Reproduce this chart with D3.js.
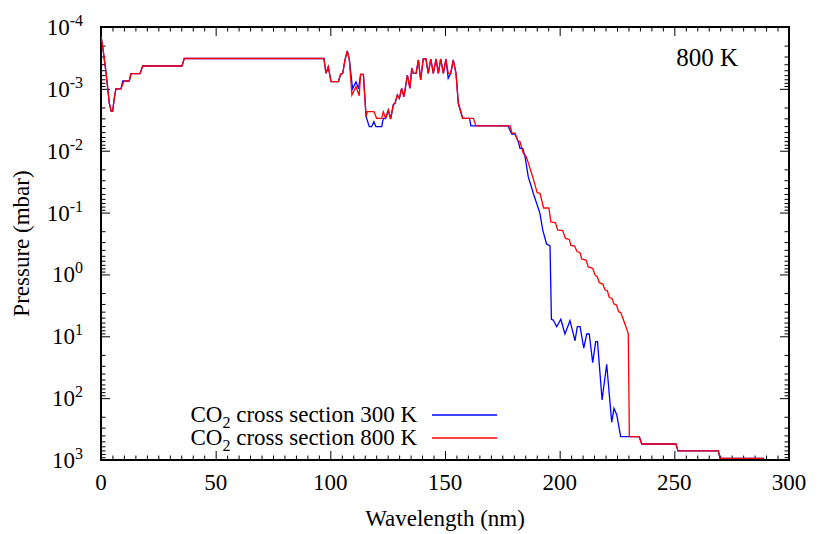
<!DOCTYPE html>
<html lang="en">
<head>
	<meta charset="UTF-8">
	<title>CO2 cross section</title>
	<script src="https://cdn.jsdelivr.net/npm/d3@7"></script>
	<style>
	*{margin:0; padding:0;}
	body{background:#fff;}
	svg text{font-family:"Liberation Serif","Times New Roman",serif; fill:#000;}
	.tick line{stroke:#000; stroke-width:1;}
	</style>
</head>
<body>
<script>
// values (wavelength in nm, pressure in mbar)
var wl300 = [0, 0.7, 2.2, 3.6, 4.4, 5.1, 5.8, 6.5, 8.7, 9.5, 12.3, 13.1, 17.0, 18.2, 35.3, 36.3, 97.2, 98.1, 99.1, 100.3,
	103.5, 104.5, 105.4, 106.4, 107.4, 108.3, 109.7, 111.2, 112.3, 113.2, 114.4, 115.6, 117.0, 118.0, 119.0, 119.9, 122.4, 123.1, 124.1, 125.3,
	126.3, 127.5, 128.2, 129.2, 130.1, 131.1, 132.1, 133.6, 134.7, 135.5, 136.2, 137.4, 138.4, 139.4, 140.5, 141.7, 142.7, 143.8, 144.9, 146.1,
	147.1, 148.1, 149.3, 150.4, 151.4, 152.5, 153.6, 154.8, 155.8, 157.7, 160.7, 161.3, 177.5, 179.1, 180.5, 182.0, 182.7, 183.9, 184.9, 186.3,
	188.5, 191.4, 192.6, 194.3, 195.8, 196.4, 197.2, 198.7, 200.5, 202.3, 204.5, 206.7, 207.7, 208.9, 210.5, 211.8, 212.9, 214.4, 215.7, 216.5,
	218.5, 220.5, 222.7, 223.7, 224.9, 226.6, 234.7, 235.8, 250.7, 251.6, 269.2, 269.9, 289.1];
var p300 = [1.40e-4, 2.03e-4, 5.48e-4, 1.68e-3, 2.28e-3, 2.28e-3, 1.41e-3, 1.0e-3, 1.0e-3, 7.46e-4, 7.46e-4, 5.69e-4, 5.69e-4, 4.27e-4, 4.27e-4, 3.23e-4, 3.23e-4, 5.60e-4, 4.39e-4, 7.66e-4,
	7.66e-4, 5.82e-4, 5.60e-4, 3.41e-4, 2.44e-4, 3.41e-4, 1.0e-3, 7.74e-4, 1.0e-3, 5.82e-4, 5.82e-4, 2.82e-3, 4.09e-3, 4.09e-3, 3.40e-3, 4.09e-3, 4.09e-3, 2.99e-3, 2.99e-3, 2.20e-3,
	3.07e-3, 1.78e-3, 1.71e-3, 1.26e-3, 1.42e-3, 9.8e-4, 1.34e-3, 5.97e-4, 9.8e-4, 4.66e-4, 5.60e-4, 5.60e-4, 3.41e-4, 7.2e-4, 3.29e-4, 3.29e-4, 5.6e-4, 3.29e-4, 5.6e-4, 3.29e-4,
	5.6e-4, 3.29e-4, 5.6e-4, 3.29e-4, 6.75e-4, 5.6e-4, 3.41e-4, 5.6e-4, 1.71e-3, 2.99e-3, 2.99e-3, 3.98e-3, 3.98e-3, 5.37e-3, 5.37e-3, 7.15e-3, 9.14e-3, 9.14e-3, 1.25e-2, 2.63e-2,
	4.88e-2, 0.103, 0.191, 0.322, 0.347, 5.31, 5.46, 7.0, 5.31, 9.18, 5.60, 11.8, 7.0, 7.0, 15.6, 9.18, 9.18, 26.7, 12.2, 12.2,
	107, 28.3, 245, 146, 187, 420, 420, 551, 551, 714, 714, 938, 938];

var wl800 = [0, 0.7, 2.2, 3.6, 4.4, 5.1, 5.8, 6.5, 8.7, 10.0, 12.3, 13.1, 17.0, 18.2, 35.3, 36.3, 97.2, 98.1, 99.1, 100.3,
	103.5, 104.5, 105.4, 106.4, 107.4, 108.3, 109.4, 111.2, 112.6, 113.2, 114.4, 115.6, 116.1, 119.0, 120.2, 122.4, 123.1, 124.1, 125.3, 126.3,
	127.5, 128.2, 129.2, 130.1, 131.1, 132.1, 133.6, 134.7, 135.5, 136.2, 137.4, 138.4, 139.4, 140.5, 141.7, 142.7, 143.8, 144.9, 146.1, 147.1,
	148.1, 149.3, 150.4, 151.4, 152.5, 153.6, 154.8, 155.8, 157.7, 162.4, 163.5, 178.4, 179.2, 180.5, 181.8, 182.7, 184.1, 185.3, 186.3, 188.5,
	190.2, 191.4, 193.0, 195.3, 196.2, 198.2, 199.1, 201.3, 202.5, 204.2, 204.9, 206.5, 207.6, 208.9, 209.6, 211.5, 212.5, 214.4, 215.4, 216.4,
	217.3, 218.8, 219.8, 220.8, 221.6, 222.8, 223.7, 224.8, 225.7, 226.7, 229.9, 230.4, 234.7, 235.8, 250.7, 251.6, 269.2, 269.9, 289.1];
var p800 = [1.40e-4, 2.03e-4, 5.48e-4, 1.68e-3, 2.28e-3, 2.28e-3, 1.41e-3, 1.0e-3, 1.0e-3, 7.46e-4, 7.46e-4, 5.69e-4, 5.69e-4, 4.27e-4, 4.27e-4, 3.23e-4, 3.23e-4, 5.60e-4, 4.39e-4, 7.66e-4,
	7.66e-4, 5.82e-4, 5.60e-4, 3.41e-4, 2.44e-4, 3.41e-4, 1.26e-3, 9.23e-4, 1.29e-3, 5.82e-4, 5.82e-4, 2.82e-3, 2.34e-3, 2.34e-3, 2.99e-3, 2.99e-3, 2.34e-3, 2.99e-3, 2.20e-3, 3.07e-3,
	1.78e-3, 1.71e-3, 1.26e-3, 1.42e-3, 9.8e-4, 1.34e-3, 5.97e-4, 9.8e-4, 4.66e-4, 5.60e-4, 5.60e-4, 3.41e-4, 7.2e-4, 3.29e-4, 3.29e-4, 5.6e-4, 3.29e-4, 5.6e-4, 3.29e-4, 5.6e-4,
	3.29e-4, 5.6e-4, 3.29e-4, 5.6e-4, 5.6e-4, 3.41e-4, 5.6e-4, 1.71e-3, 2.99e-3, 2.99e-3, 3.98e-3, 3.98e-3, 5.18e-3, 5.18e-3, 6.97e-3, 7.1e-3, 1.10e-2, 1.22e-2, 1.56e-2, 2.86e-2,
	4.78e-2, 4.88e-2, 8.43e-2, 8.43e-2, 0.142, 0.147, 0.191, 0.195, 0.261, 0.272, 0.340, 0.347, 0.426, 0.446, 0.562, 0.585, 0.759, 0.796, 1.02, 1.09,
	1.36, 1.43, 1.79, 1.83, 2.34, 2.45, 3.01, 3.12, 4.0, 4.16, 8.95, 420, 420, 551, 551, 714, 714, 938, 938];

var xTicks = [0, 50, 100, 150, 200, 250, 300];
var yExps = [-4, -3, -2, -1, 0, 1, 2, 3];
var seriesNames = ["CO2 cross section 300 K", "CO2 cross section 800 K"];
var seriesColors = ["#0000ff", "#ff0000"];
var tempLabel = "800 K";

var width = 830, height = 534;
var mLeft = 101, mRight = 789, mTop = 27, mBottom = 460;

var svg = d3.select("body").append("svg")
	.attr("width", width)
	.attr("height", height);

var x = d3.scaleLinear().domain([0, 300]).range([mLeft, mRight]);
var y = d3.scaleLog().domain([1e-4, 1e3]).range([mTop, mBottom]);

var xMinor = d3.range(0, 301, 5).filter(function(d){ return d % 50 !== 0; });
var yMajor = yExps.map(function(e){ return Math.pow(10, e); });
var yMinor = [];
yExps.slice(0, -1).forEach(function(e){
	for(var k = 2; k < 10; k++) yMinor.push(k * Math.pow(10, e));
});

// ticks on all four sides, pointing inward
function addAxis(axisFn, scale, vals, size, tx, ty){
	var g = svg.append("g")
		.attr("transform", "translate(" + tx + "," + ty + ")")
		.call(axisFn(scale).tickValues(vals).tickSize(size).tickFormat(""));
	g.select(".domain").remove();
	return g;
}
addAxis(d3.axisBottom, x, xTicks, -9, 0, mBottom);
addAxis(d3.axisBottom, x, xMinor, -4.5, 0, mBottom);
addAxis(d3.axisTop, x, xTicks, -9, 0, mTop);
addAxis(d3.axisTop, x, xMinor, -4.5, 0, mTop);
addAxis(d3.axisLeft, y, yMajor, -9, mLeft, 0);
addAxis(d3.axisLeft, y, yMinor, -4.5, mLeft, 0);
addAxis(d3.axisRight, y, yMajor, -9, mRight, 0);
addAxis(d3.axisRight, y, yMinor, -4.5, mRight, 0);

// tick labels
svg.append("g").selectAll("text")
	.data(xTicks)
	.enter()
	.append("text")
	.attr("x", function(d){ return x(d); })
	.attr("y", 490)
	.attr("text-anchor", "middle")
	.style("font-size", "23px")
	.text(function(d){ return d; });

var yl = svg.append("g").selectAll("text")
	.data(yExps)
	.enter()
	.append("text")
	.attr("x", 83)
	.attr("y", function(d){ return y(Math.pow(10, d)) + 8; })
	.attr("text-anchor", "end")
	.style("font-size", "23px");
yl.append("tspan").text("10");
yl.append("tspan")
	.attr("dy", -9)
	.style("font-size", "16px")
	.text(function(d){ return d; });

// frame
svg.append("rect")
	.attr("x", mLeft).attr("y", mTop)
	.attr("width", mRight - mLeft).attr("height", mBottom - mTop)
	.attr("fill", "none")
	.attr("stroke", "#000")
	.attr("stroke-width", 2);

// curves
svg.append("clipPath").attr("id", "clip")
	.append("rect")
	.attr("x", mLeft).attr("y", mTop)
	.attr("width", mRight - mLeft).attr("height", mBottom - mTop);

var line = d3.line()
	.x(function(d){ return x(d[0]); })
	.y(function(d){ return y(d[1]); });

var series = [
	d3.zip(wl300, p300),
	d3.zip(wl800, p800)
];
svg.append("g").attr("clip-path", "url(#clip)")
	.selectAll("path")
	.data(series)
	.enter()
	.append("path")
	.attr("d", line)
	.attr("fill", "none")
	.attr("stroke", function(d, i){ return seriesColors[i]; })
	.attr("stroke-width", 1.3);

// legend
var lg = svg.append("g").selectAll("g")
	.data(seriesNames)
	.enter()
	.append("g")
	.attr("transform", function(d, i){ return "translate(0," + (415 + i * 23) + ")"; });
lg.append("line")
	.attr("x1", 432).attr("x2", 497)
	.attr("stroke", function(d, i){ return seriesColors[i]; })
	.attr("stroke-width", 1.3);
var lt = lg.append("text")
	.attr("x", 417)
	.attr("y", 7)
	.attr("text-anchor", "end")
	.style("font-size", "23px");
lt.append("tspan").text("CO");
lt.append("tspan").attr("dy", 6).style("font-size", "16px").text("2");
lt.append("tspan").attr("dy", -6).text(function(d){ return d.replace("CO2", ""); });

svg.append("text")
	.attr("x", 738).attr("y", 66)
	.attr("text-anchor", "end")
	.style("font-size", "25px")
	.text(tempLabel);

// axis titles
svg.append("text")
	.attr("x", (mLeft + mRight) / 2).attr("y", 526)
	.attr("text-anchor", "middle")
	.style("font-size", "23px")
	.text("Wavelength (nm)");

svg.append("text")
	.attr("transform", "translate(29," + ((mTop + mBottom) / 2) + ") rotate(-90)")
	.attr("text-anchor", "middle")
	.style("font-size", "23px")
	.text("Pressure (mbar)");
</script>
</body>
</html>
